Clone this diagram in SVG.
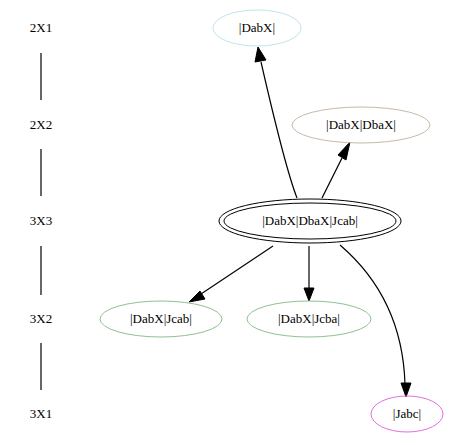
<svg xmlns="http://www.w3.org/2000/svg" width="449" height="445" viewBox="0 0 449 445">
<style>
text{font-family:"Liberation Serif","Times New Roman",serif;font-size:13px;text-anchor:middle;fill:#000}
ellipse{fill:none;stroke-width:1}
.e{fill:none;stroke:#000;stroke-width:1.2}
.h{fill:#000;stroke:#000;stroke-width:1}
.r{stroke:#000;stroke-width:1.2}
</style>
<rect width="449" height="445" fill="#fff"/>
<g id="ranks">
<text x="41" y="32">2X1</text>
<text x="41" y="129">2X2</text>
<text x="41" y="225">3X3</text>
<text x="41" y="323">3X2</text>
<text x="41" y="418">3X1</text>
<line class="r" x1="41" y1="53" x2="41" y2="100"/>
<line class="r" x1="41" y1="149" x2="41" y2="196"/>
<line class="r" x1="41" y1="246" x2="41" y2="295"/>
<line class="r" x1="41" y1="343" x2="41" y2="390"/>
</g>
<g id="connectors">
<path class="e" d="M297,198 C288,175 272,110 261,62"/>
<path class="h" d="M258,47 L255,62 L266,60 z"/>
<path class="e" d="M322,198 L342,158"/>
<path class="h" d="M350,142 L346,160 L338,155 z"/>
<path class="e" d="M273,246 L198,296"/>
<path class="h" d="M189,302 L200,291 L205,299 z"/>
<path class="e" d="M309,246 L309,290"/>
<path class="h" d="M309,301 L304,288 L314,288 z"/>
<path class="e" d="M340,245 C375,275 403,320 405,384"/>
<path class="h" d="M406,397 L401,383 L411,383 z"/>
</g>
<g id="n1"><ellipse cx="257" cy="28" rx="44" ry="18" stroke="#bfe6e8"/><text x="257" y="32">|DabX|</text></g>
<g id="n2"><ellipse cx="361" cy="125" rx="69" ry="18" stroke="#c9b9a8"/><text x="361" y="129">|DabX|DbaX|</text></g>
<g id="n3"><ellipse cx="310" cy="221" rx="91" ry="22" stroke="#000"/><ellipse cx="310" cy="221" rx="86" ry="18" stroke="#000"/><text x="310" y="225">|DabX|DbaX|Jcab|</text></g>
<g id="n4"><ellipse cx="161" cy="319" rx="61" ry="18" stroke="#8fc18f"/><text x="161" y="323">|DabX|Jcab|</text></g>
<g id="n5"><ellipse cx="309" cy="319" rx="62" ry="18" stroke="#8fc18f"/><text x="309" y="323">|DabX|Jcba|</text></g>
<g id="n6"><ellipse cx="407" cy="414" rx="36" ry="18" stroke="#e070e0"/><text x="407" y="418">|Jabc|</text></g>
</svg>
